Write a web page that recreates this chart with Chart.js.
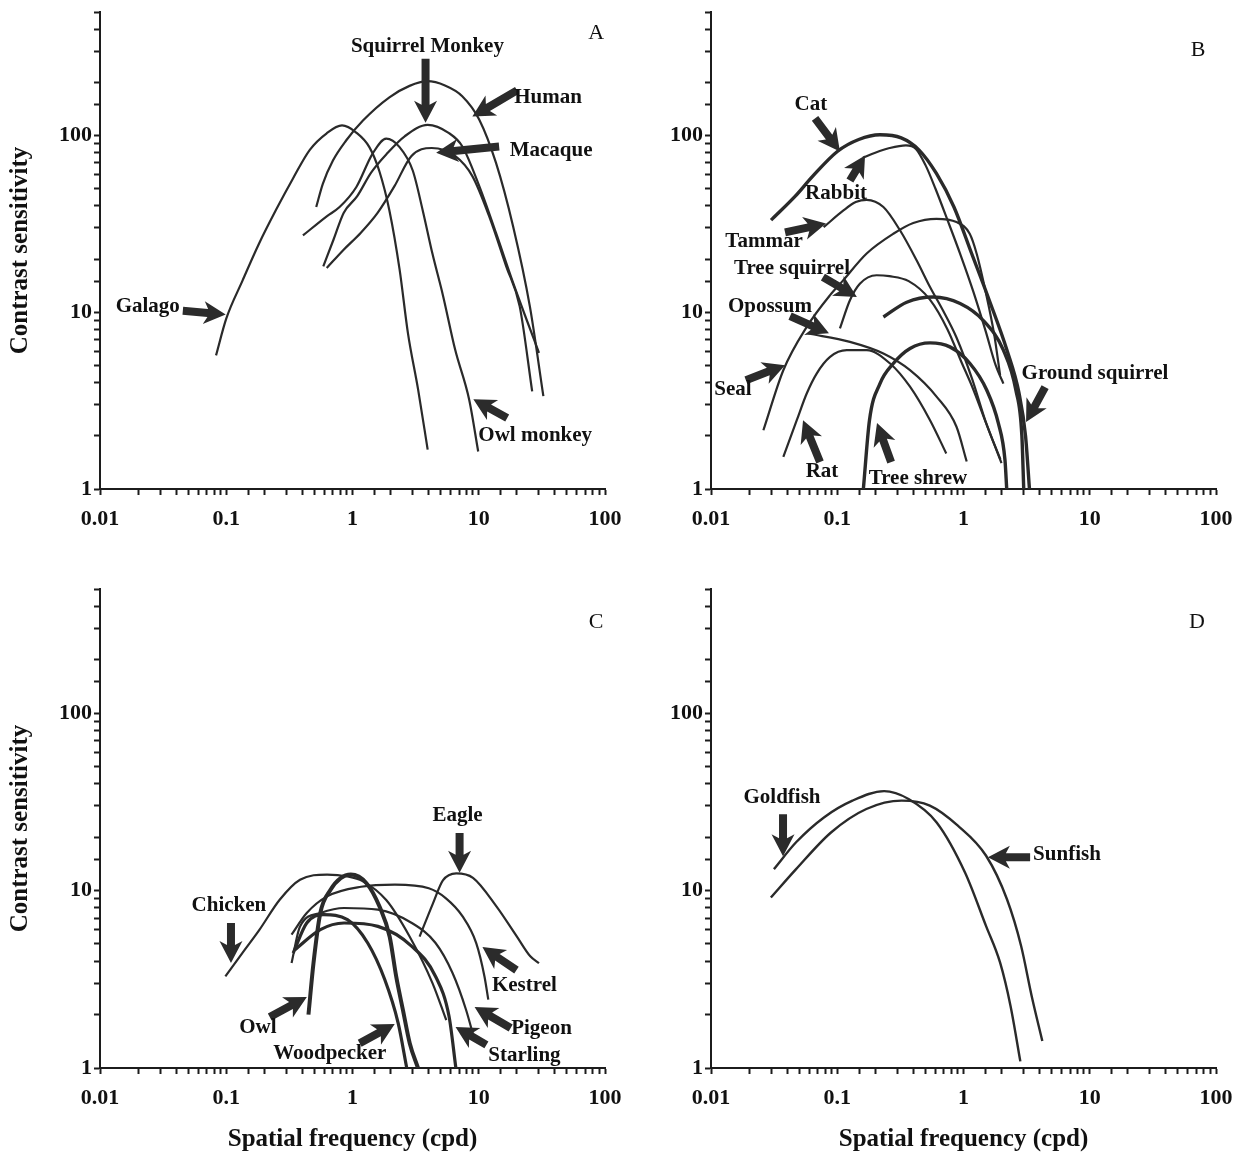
<!DOCTYPE html>
<html><head><meta charset="utf-8">
<script src="https://cdn.jsdelivr.net/npm/chart.js@4.4.1/dist/chart.umd.min.js"></script>
<style>
html,body{margin:0;padding:0;background:#fff;}
#wrap{position:relative;width:1245px;height:1155px;overflow:hidden;background:#fff;}
.pane{position:absolute;}
canvas{display:block;}
</style></head><body>
<div id="wrap">
<div class="pane" style="left:0;top:0;"><canvas id="cA" width="622" height="545"></canvas></div>
<div class="pane" style="left:622px;top:0;"><canvas id="cB" width="623" height="545"></canvas></div>
<div class="pane" style="left:0;top:545px;"><canvas id="cC" width="622" height="610"></canvas></div>
<div class="pane" style="left:622px;top:545px;"><canvas id="cD" width="623" height="610"></canvas></div>
</div>
<script>
// ---------- tick labels / titles ----------
const xTickLabels = ['0.01', '0.1', '1', '10', '100'];
const yTickLabels = ['1', '10', '100'];
const xTitle = 'Spatial frequency (cpd)';
const yTitle = 'Contrast sensitivity';

// ---------- Panel A : primates ----------
const galagoX = [0.083,0.1,0.134,0.182,0.248,0.337,0.459,0.625,0.826,1.07,1.36,1.63,1.96,2.36,2.75,3.31,3.94];
const galagoY = [5.7,9.2,15,24.5,38,57,83,103,114,104,86,63,37.7,17.5,7.6,3.65,1.67];
const humanX = [0.516,0.582,0.70,0.89,1.21,1.96,2.83,3.9,5.4,7.4,10.1,13.7,18.7,25.4,32.5];
const humanY = [39.4,53.3,72.2,93.7,121.6,164.6,191,203,192,167,123,70,30.7,10.8,3.35];
const squirrelMonkeyX = [0.587,0.708,0.851,1.09,1.40,1.90,2.59,3.94,5.77,7.4,10.1,13.7,18.7,23.9,30];
const squirrelMonkeyY = [18.2,25.8,36.5,45.4,61.5,79.8,99,115,103.6,87,51.7,28.1,14.7,9.1,5.9];
const macaqueX = [0.625,0.851,1.16,1.58,2.15,2.92,4.24,6.53,8.9,12.1,16.5,21.1,26.5];
const macaqueY = [17.8,22.6,28.1,36.5,51.7,76.4,85,76.4,58.9,34.9,18.2,10.8,3.57];
const owlMonkeyX = [0.405,0.625,0.79,1.07,1.44,1.85,2.36,3.0,3.6,4.3,5.2,6.5,8.4,9.9];
const owlMonkeyY = [27.2,34.9,39.4,51,78.8,96,86,63.4,37.7,21.4,12.5,6.15,3.2,1.63];

// ---------- Panel B : non-primate mammals ----------
const catX = [0.0299,0.0465,0.064,0.1007,0.148,0.218,0.321,0.443,0.61,0.84,1.16,1.6,2.21,2.75,3.1,3.33];
const catY = [33.2,45.4,58.9,81.5,95,101,97,83,61,39.4,21.5,11.7,6.1,3.5,2.0,1.0];
const rabbitX = [0.16,0.2,0.26,0.35,0.42,0.5,0.6,0.75,0.95,1.2,1.5,1.8,2.07];
const rabbitY = [75,80,85,88,84,68,50,33,21,13,7.8,5.0,3.95];
const tammarX = [0.078,0.112,0.14,0.171,0.232,0.314,0.425,0.543,0.69,0.88,1.17,1.5,1.96];
const tammarY = [30.3,37.7,42,43.3,39.4,29.1,19.7,13.9,10.2,7.2,4.2,2.4,1.47];
const sealX = [0.026,0.0374,0.0573,0.0877,0.11,0.171,0.278,0.4,0.61,0.88,1.12,1.27,1.5,1.75,1.95];
const sealY = [2.15,4.7,8.26,12.5,15,21.5,27.8,32,33.8,32.4,27.8,21.5,13,7.5,4.4];
const treeSquirrelX = [0.105,0.126,0.151,0.205,0.259,0.368,0.542,0.747,0.966,1.17,1.51,2.0];
const treeSquirrelY = [8.1,11.7,14.5,16.2,16,15,11.8,8.0,5.2,3.8,2.36,1.4];
const opossumX = [0.059,0.126,0.232,0.377,0.614,0.88,1.06];
const opossumY = [7.58,6.8,5.84,4.7,3.32,2.25,1.43];
const ratX = [0.0374,0.0478,0.0573,0.0687,0.0877,0.119,0.171,0.262,0.377,0.543,0.73];
const ratY = [1.52,2.45,3.47,4.5,5.59,6.1,6.1,5.13,3.79,2.45,1.59];
const treeShrewX = [0.161,0.18,0.218,0.278,0.377,0.543,0.78,1.125,1.53,1.89,2.13,2.2];
const treeShrewY = [1.0,2.45,3.95,5.13,6.24,6.71,6.37,5.13,3.62,2.35,1.46,1.0];
const groundSquirrelX = [0.232,0.355,0.576,0.94,1.43,2.07,2.6,2.9,3.0];
const groundSquirrelY = [9.4,11.4,12.2,11.2,9.0,6.1,3.62,2.0,1.0];

// ---------- Panel C : birds ----------
const chickenX = [0.0984,0.134,0.183,0.265,0.384,0.629,0.912,1.2,1.85,2.84,4.3,5.53];
const chickenY = [3.28,4.44,6.0,8.87,11.5,12.3,12.0,11.3,8.84,5.49,3.01,1.86];
const owlX = [0.448,0.491,0.556,0.67,0.806,0.97,1.29,1.64,1.97,2.22,2.51,2.84,3.3];
const owlY = [2.0,3.9,7.47,10.1,11.75,12.3,11.0,8.1,5.49,3.27,2.12,1.38,1.0];
const woodpeckerX = [0.339,0.434,0.591,0.912,1.32,1.8,2.3,2.69];
const woodpeckerY = [4.44,6.56,7.31,6.85,5.06,3.15,1.79,1.0];
const starlingX = [0.35,0.556,0.857,1.59,2.95,4.55,5.82,6.59];
const starlingY = [4.64,6.02,6.56,6.28,4.85,3.28,1.95,1.0];
const kestrelX = [0.329,0.434,0.629,1.17,2.17,4.02,5.47,7.45,9.55,11.1,11.9];
const kestrelY = [5.64,7.47,9.27,10.5,10.8,10.3,9.07,7.15,5.06,3.28,2.43];
const pigeonX = [0.329,0.384,0.556,0.857,1.59,2.95,4.55,6.2,7.93,9.25];
const pigeonY = [3.9,6.28,7.47,7.97,7.8,6.56,5.06,3.43,2.13,1.44];
const eagleX = [3.4,4.34,5.2,6.64,9.0,13.8,20,25.6,30];
const eagleY = [5.5,8.47,11.4,12.5,11.8,8.15,5.52,4.26,3.9];

// ---------- Panel D : fish ----------
const goldfishX = [0.0315,0.0472,0.0789,0.132,0.235,0.367,0.613,1.03,1.51,1.95,2.36,2.82];
const goldfishY = [13.2,18.7,25.9,32.1,36.3,32.8,24.2,12.6,6.3,3.92,2.23,1.09];
const sunfishX = [0.0298,0.0472,0.0897,0.170,0.324,0.541,0.902,1.51,2.21,2.86,3.47,4.21];
const sunfishY = [9.13,13.2,21.3,28.8,32.1,30.1,23.2,15.7,8.93,4.87,2.54,1.42];

// ---------- annotations (data coordinates) ----------
const annotA = [
  {text:'Squirrel Monkey', at:[3.92,318], from:[3.79,272], to:[3.79,118]},
  {text:'Human', at:[35.4,164], from:[20.1,180], to:[8.9,128]},
  {text:'Macaque', at:[37.4,82], from:[14.5,86.7], to:[4.6,80]},
  {text:'Galago', at:[0.0239,10.7], from:[0.0453,10.2], to:[0.099,9.7]},
  {text:'Owl monkey', at:[28,2.0], from:[16.8,2.52], to:[9.06,3.22]}
];
const annotB = [
  {text:'Cat', at:[0.0619,150], from:[0.0667,125], to:[0.105,81.2]},
  {text:'Rabbit', at:[0.0978,47], from:[0.126,55.7], to:[0.166,77.1]},
  {text:'Tammar', at:[0.0263,25.2], from:[0.0386,28.3], to:[0.0815,31.8]},
  {text:'Tree squirrel', at:[0.0438,17.7], from:[0.077,15.8], to:[0.143,12.2]},
  {text:'Opossum', at:[0.0293,10.7], from:[0.0423,9.5], to:[0.086,7.6]},
  {text:'Seal', at:[0.0149,3.63], from:[0.0189,4.13], to:[0.0386,5.02]},
  {text:'Rat', at:[0.0757,1.25], from:[0.073,1.42], to:[0.0536,2.45]},
  {text:'Tree shrew', at:[0.436,1.15], from:[0.267,1.42], to:[0.2065,2.36]},
  {text:'Ground squirrel', at:[11.0,4.52], from:[4.43,3.77], to:[3.13,2.39]}
];
const annotC = [
  {text:'Eagle', at:[6.79,26.6], from:[7.05,21.1], to:[7.05,12.6]},
  {text:'Chicken', at:[0.105,8.18], from:[0.109,6.56], to:[0.109,3.9]},
  {text:'Kestrel', at:[23,2.9], from:[19.9,3.56], to:[10.7,4.8]},
  {text:'Owl', at:[0.178,1.70], from:[0.221,1.94], to:[0.435,2.51]},
  {text:'Woodpecker', at:[0.66,1.21], from:[1.14,1.38], to:[2.16,1.77]},
  {text:'Pigeon', at:[31.4,1.66], from:[17.9,1.68], to:[9.27,2.21]},
  {text:'Starling', at:[23,1.18], from:[11.5,1.35], to:[6.55,1.70]}
];
const annotD = [
  {text:'Goldfish', at:[0.0365,33.5], from:[0.0372,26.9], to:[0.0372,15.6]},
  {text:'Sunfish', at:[6.6,16], from:[3.37,15.4], to:[1.56,15.4]}
];
const letters = {A:[85,377], B:[72,302], C:[85,326], D:[70.6,326]};

// ---------- rendering ----------
const FONT = "'Liberation Serif','Times New Roman',Times,serif";
const INK = '#1c1c1c';
const LINE = '#2a2a2a';

function series(xs, ys, w) {
  return {
    data: xs.map((x, i) => ({x: x, y: ys[i]})),
    borderColor: LINE, borderWidth: w, pointRadius: 0, pointHoverRadius: 0,
    fill: false, cubicInterpolationMode: 'monotone', borderCapStyle: 'butt', borderJoinStyle: 'round'
  };
}

function decadeLabel(v, labels) {
  const e = Math.log10(v), r = Math.round(e);
  if (Math.abs(e - r) > 1e-6) return '';
  const s = labels.find(l => Math.abs(Math.log10(parseFloat(l)) - r) < 1e-6);
  return s === undefined ? '' : s;
}

function drawArrow(ctx, x0, y0, x1, y1) {
  const dx = x1 - x0, dy = y1 - y0, L = Math.hypot(dx, dy);
  if (L < 1) return;
  const ux = dx / L, uy = dy / L, nx = -uy, ny = ux;
  const hl = Math.min(18, L * 0.6), hw = 11.5, sw = 4, sweep = 4;
  const bx = x1 - ux * hl, by = y1 - uy * hl;
  ctx.beginPath();
  ctx.moveTo(x0 + nx * sw, y0 + ny * sw);
  ctx.lineTo(bx + nx * sw, by + ny * sw);
  ctx.lineTo(bx - ux * sweep + nx * hw, by - uy * sweep + ny * hw);
  ctx.lineTo(x1, y1);
  ctx.lineTo(bx - ux * sweep - nx * hw, by - uy * sweep - ny * hw);
  ctx.lineTo(bx - nx * sw, by - ny * sw);
  ctx.lineTo(x0 - nx * sw, y0 - ny * sw);
  ctx.closePath();
  ctx.fill();
}

function annotPlugin(items, letter, letterPos) {
  return {
    id: 'annot',
    afterDraw(chart) {
      const ctx = chart.ctx, xs = chart.scales.x, ys = chart.scales.y;
      const px = v => xs.getPixelForValue(v), py = v => ys.getPixelForValue(v);
      ctx.save();
      ctx.fillStyle = '#2b2b2b';
      items.forEach(it => drawArrow(ctx, px(it.from[0]), py(it.from[1]), px(it.to[0]), py(it.to[1])));
      ctx.fillStyle = '#111';
      ctx.textAlign = 'center';
      ctx.textBaseline = 'middle';
      ctx.font = 'bold 21px ' + FONT;
      items.forEach(it => ctx.fillText(it.text, px(it.at[0]), py(it.at[1])));
      ctx.font = '22px ' + FONT;
      ctx.fillText(letter, px(letterPos[0]), py(letterPos[1]));
      ctx.restore();
    }
  };
}

const bgPlugin = {
  id: 'bg',
  beforeDraw(chart) {
    const c = chart.ctx; c.save(); c.fillStyle = '#fff';
    c.fillRect(0, 0, chart.width, chart.height); c.restore();
  }
};

function makeChart(id, datasets, cfg) {
  const tickFont = {family: FONT, size: 22, weight: 'bold'};
  const titleFont = {family: FONT, size: 25, weight: 'bold'};
  return new Chart(document.getElementById(id), {
    type: 'line',
    data: {datasets: datasets},
    options: {
      responsive: false, animation: false, devicePixelRatio: 1,
      events: [],
      layout: {padding: {top: cfg.padTop, right: cfg.padRight, left: 0, bottom: 0}},
      plugins: {legend: {display: false}, tooltip: {enabled: false}},
      scales: {
        x: {
          type: 'logarithmic', min: 0.01, max: 100, position: 'bottom',
          afterFit: s => { s.height = cfg.xH; s.paddingLeft = 0; s.paddingRight = 0; },
          border: {display: true, color: INK, width: 2},
          grid: {display: true, drawOnChartArea: false, drawTicks: true, tickLength: 6, tickWidth: 2, tickColor: INK},
          ticks: {autoSkip: false, maxRotation: 0, minRotation: 0, padding: 11, color: '#111', font: tickFont,
                  callback: v => decadeLabel(v, xTickLabels)},
          title: {display: cfg.showX, text: xTitle, color: '#111', font: titleFont, padding: {top: 0, bottom: 0}}
        },
        y: {
          type: 'logarithmic', min: 1, max: 500, position: 'left',
          afterFit: s => { s.width = cfg.yW; s.paddingTop = 0; s.paddingBottom = 0; },
          border: {display: true, color: INK, width: 2},
          grid: {display: true, drawOnChartArea: false, drawTicks: true, tickLength: 6, tickWidth: 2, tickColor: INK},
          ticks: {autoSkip: false, padding: 2, color: '#111', font: tickFont,
                  callback: v => decadeLabel(v, yTickLabels)},
          title: {display: cfg.showY, text: yTitle, color: '#111', font: titleFont, padding: {top: 6, bottom: 0}}
        }
      }
    },
    plugins: [bgPlugin, annotPlugin(cfg.annots, cfg.letter, letters[cfg.letter])]
  });
}

makeChart('cA', [
  series(galagoX, galagoY, 2.2),
  series(humanX, humanY, 2.2),
  series(squirrelMonkeyX, squirrelMonkeyY, 2.2),
  series(macaqueX, macaqueY, 2.2),
  series(owlMonkeyX, owlMonkeyY, 2.2)
], {padTop: 12, padRight: 17, xH: 56, yW: 100, showX: false, showY: true, annots: annotA, letter: 'A'});

makeChart('cB', [
  series(catX, catY, 3.4),
  series(rabbitX, rabbitY, 2.2),
  series(tammarX, tammarY, 2.2),
  series(sealX, sealY, 2.2),
  series(treeSquirrelX, treeSquirrelY, 2.2),
  series(opossumX, opossumY, 2.2),
  series(ratX, ratY, 2.2),
  series(treeShrewX, treeShrewY, 3.4),
  series(groundSquirrelX, groundSquirrelY, 3.4)
], {padTop: 12, padRight: 29, xH: 56, yW: 89, showX: false, showY: false, annots: annotB, letter: 'B'});

makeChart('cC', [
  series(chickenX, chickenY, 2.2),
  series(kestrelX, kestrelY, 2.2),
  series(pigeonX, pigeonY, 2.2),
  series(eagleX, eagleY, 2.2),
  series(starlingX, starlingY, 3.2),
  series(woodpeckerX, woodpeckerY, 3.2),
  series(owlX, owlY, 4)
], {padTop: 44, padRight: 17, xH: 87, yW: 100, showX: true, showY: true, annots: annotC, letter: 'C'});

makeChart('cD', [
  series(goldfishX, goldfishY, 2.4),
  series(sunfishX, sunfishY, 2.4)
], {padTop: 44, padRight: 29, xH: 87, yW: 89, showX: true, showY: false, annots: annotD, letter: 'D'});
</script>
</body></html>
